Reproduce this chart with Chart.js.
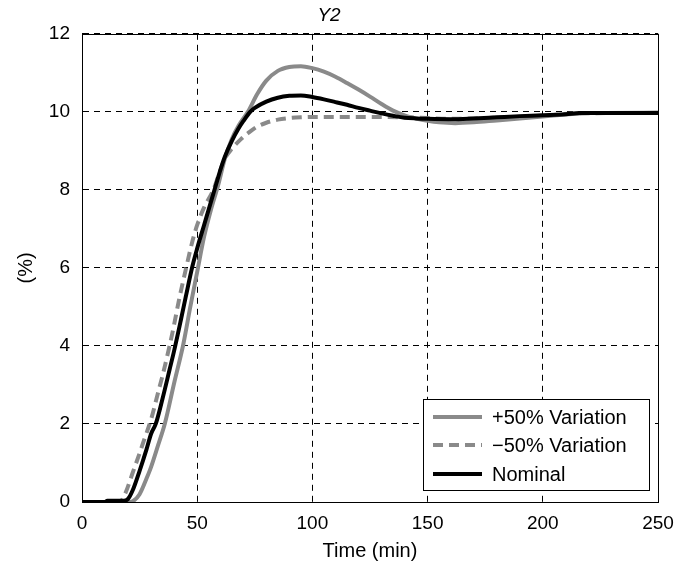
<!DOCTYPE html>
<html lang="en">
  <head>
    <meta charset="UTF-8" />
    <title>Y2</title>
    <script src="https://cdn.jsdelivr.net/npm/chart.js"></script>
    <style>
      body { margin: 0; background: #fff; }
    </style>
  </head>
  <body>
    <canvas id="y2Chart" width="695" height="569"></canvas>

    <script>
      // series values (time in min, response in %)
      var seriesLabels = ["+50% Variation", "\u221250% Variation", "Nominal"];

      var tPlus = [0, 20, 22, 25, 28, 30, 33, 36, 40, 44, 47, 50, 53, 56, 59, 62, 65, 68, 72, 76, 80, 85, 90, 95, 100, 105, 110, 115, 120, 125, 130, 135, 140, 145, 150, 155, 162, 170, 180, 190, 200, 210, 220, 250];
      var yPlus = [0, 0, 0.02, 0.2, 0.6, 0.9, 1.45, 2.02, 3.05, 4.05, 5.0, 5.9, 6.8, 7.5, 8.1, 8.8, 9.3, 9.65, 10.0, 10.45, 10.8, 11.05, 11.15, 11.17, 11.12, 11.03, 10.9, 10.74, 10.57, 10.39, 10.2, 10.03, 9.91, 9.83, 9.77, 9.73, 9.71, 9.73, 9.78, 9.83, 9.88, 9.93, 9.97, 9.98];

      var tMinus = [0, 15, 17, 19, 22, 25, 27, 30, 33, 35, 38, 40, 42, 45, 48, 50, 53, 57, 60, 62, 65, 69, 72, 76, 80, 85, 90, 95, 100, 120, 140, 150, 160, 170, 180, 200, 215, 250];
      var yMinus = [0, 0, 0.03, 0.25, 0.75, 1.25, 1.6, 2.12, 2.8, 3.25, 4.0, 4.55, 5.15, 5.95, 6.7, 7.1, 7.55, 8.0, 8.5, 8.8, 9.05, 9.3, 9.45, 9.62, 9.72, 9.8, 9.84, 9.86, 9.87, 9.87, 9.86, 9.84, 9.82, 9.83, 9.85, 9.9, 9.96, 9.97];

      var tNom = [0, 10, 11, 18, 20, 22, 25, 28, 30, 32, 35, 38, 40, 43, 45, 48, 50, 53, 55, 58, 60, 62, 65, 68, 70, 73, 75, 80, 85, 90, 95, 100, 105, 110, 115, 120, 125, 130, 135, 140, 145, 150, 160, 170, 180, 190, 200, 210, 216, 230, 250];
      var yNom = [0, 0, 0.03, 0.03, 0.08, 0.3, 0.8, 1.35, 1.75, 2.0, 2.66, 3.39, 3.88, 4.69, 5.25, 6.06, 6.5, 7.1, 7.5, 8.1, 8.5, 8.85, 9.25, 9.58, 9.76, 10.0, 10.1, 10.26, 10.36, 10.41, 10.42, 10.38, 10.32, 10.25, 10.18, 10.1, 10.03, 9.96, 9.9, 9.85, 9.83, 9.82, 9.81, 9.83, 9.86, 9.89, 9.91, 9.94, 9.97, 9.97, 9.97];

      var xTicks = [0, 50, 100, 150, 200, 250];
      var yTicks = [0, 2, 4, 6, 8, 10, 12];

      var FONT = "'Liberation Sans', Arial, Helvetica, sans-serif";
      var GREY = "rgb(138, 138, 138)";

      function pairs(xs, ys) {
        return xs.map(function (x, i) {
          return { x: x, y: ys[i] };
        });
      }

      // solid box round the plot, like matlab's "box on"
      var frame = {
        id: "frame",
        afterDatasetsDraw: function (chart) {
          var a = chart.chartArea;
          var ctx = chart.ctx;
          ctx.save();
          ctx.strokeStyle = "#000";
          ctx.lineWidth = 1;
          ctx.strokeRect(Math.round(a.left) + 0.5, Math.round(a.top) + 0.5,
            Math.round(a.right - a.left), Math.round(a.bottom - a.top));
          ctx.restore();
        },
      };

      // legend box inside the lower right corner
      var boxLegend = {
        id: "boxLegend",
        afterDraw: function (chart) {
          var a = chart.chartArea;
          var ctx = chart.ctx;
          var left = Math.round(a.right) - 235;
          var top = Math.round(a.bottom) - 103;
          var rows = [18, 46, 75];
          var order = [0, 1, 2];
          ctx.save();
          ctx.fillStyle = "#fff";
          ctx.fillRect(left, top, 226, 91);
          ctx.strokeStyle = "#000";
          ctx.lineWidth = 1;
          ctx.strokeRect(left + 0.5, top + 0.5, 226, 91);
          ctx.font = "20px " + FONT;
          ctx.textBaseline = "middle";
          order.forEach(function (i, r) {
            var ds = chart.data.datasets[i];
            var y = top + rows[r];
            ctx.beginPath();
            ctx.strokeStyle = ds.borderColor;
            ctx.lineWidth = ds.borderWidth;
            ctx.setLineDash(ds.borderDash || []);
            ctx.moveTo(left + 10, y);
            ctx.lineTo(left + 59, y);
            ctx.stroke();
            ctx.setLineDash([]);
            ctx.fillStyle = "#000";
            ctx.fillText(ds.label, left + 69, y + 1);
          });
          ctx.restore();
        },
      };

      var ctxY2 = document.getElementById("y2Chart").getContext("2d");
      var y2Chart = new Chart(ctxY2, {
        type: "line",
        data: {
          datasets: [
            {
              label: seriesLabels[0],
              data: pairs(tPlus, yPlus),
              borderColor: GREY,
              borderWidth: 4,
              order: 2,
            },
            {
              label: seriesLabels[1],
              data: pairs(tMinus, yMinus),
              borderColor: GREY,
              borderWidth: 4,
              borderDash: [10, 6],
              order: 1,
            },
            {
              label: seriesLabels[2],
              data: pairs(tNom, yNom),
              borderColor: "#000",
              borderWidth: 4,
              order: 0,
            },
          ],
        },
        options: {
          responsive: false,
          animation: false,
          events: [],
          layout: { padding: { left: 0, right: 37, top: 0, bottom: 0 } },
          elements: {
            point: { radius: 0 },
            line: { cubicInterpolationMode: "monotone", fill: false, borderCapStyle: "butt" },
          },
          plugins: {
            legend: { display: false },
            tooltip: { enabled: false },
            title: {
              display: true,
              text: "Y2",
              color: "#000",
              font: { family: FONT, size: 19, style: "italic", weight: "normal" },
              padding: { top: 4, bottom: 7 },
            },
          },
          scales: {
            x: {
              type: "linear",
              min: 0,
              max: 250,
              afterFit: function (scale) { scale.height = 67; },
              afterBuildTicks: function (scale) {
                scale.ticks = xTicks.map(function (v) { return { value: v }; });
              },
              grid: { color: "#000", lineWidth: 1, drawTicks: false },
              border: { color: "#000", width: 1, dash: [6, 5] },
              ticks: {
                color: "#000",
                padding: 10,
                maxRotation: 0,
                font: { family: FONT, size: 19 },
              },
              title: {
                display: true,
                text: "Time (min)",
                color: "#000",
                font: { family: FONT, size: 20 },
                padding: { top: 0, bottom: 6 },
              },
            },
            y: {
              min: 0,
              max: 12,
              afterFit: function (scale) { scale.width = 82; },
              afterBuildTicks: function (scale) {
                scale.ticks = yTicks.map(function (v) { return { value: v }; });
              },
              grid: { color: "#000", lineWidth: 1, drawTicks: false },
              border: { color: "#000", width: 1, dash: [6, 5] },
              ticks: {
                color: "#000",
                padding: 12,
                font: { family: FONT, size: 19 },
              },
              title: {
                display: true,
                text: "(%)",
                color: "#000",
                font: { family: FONT, size: 20 },
                padding: { top: 14, bottom: 0 },
              },
            },
          },
        },
        plugins: [frame, boxLegend],
      });
    </script>
  </body>
</html>
